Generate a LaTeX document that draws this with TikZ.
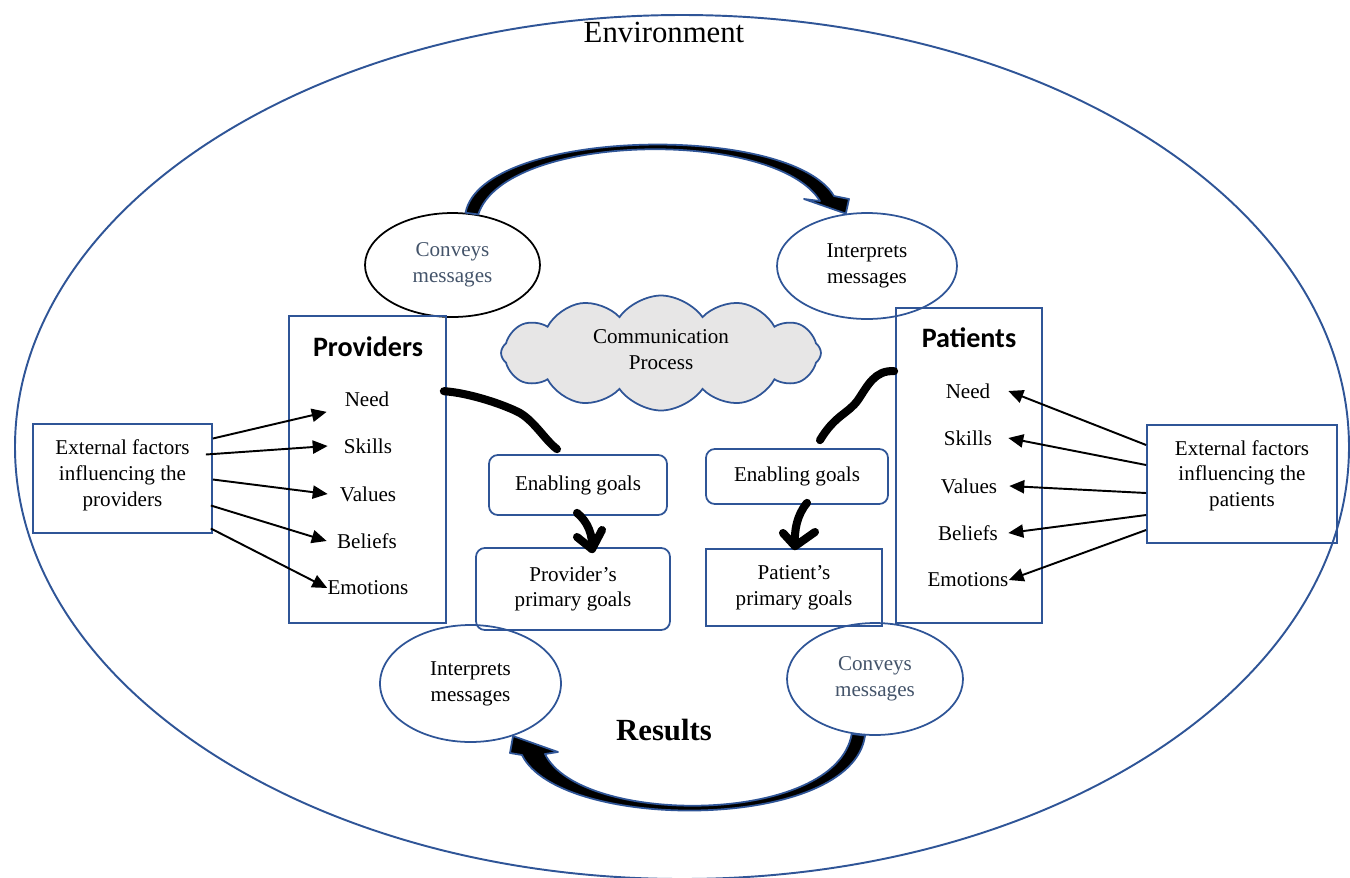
\documentclass[tikz,border=0pt]{standalone}
\usepackage{fontspec}
\setmainfont{Liberation Serif}
\newfontfamily\calibrifont{Carlito}
\usetikzlibrary{positioning, shapes.geometric, shapes.symbols, arrows.meta, calc}
\definecolor{ofblue}{HTML}{2F5597}
\definecolor{slate}{HTML}{44546A}
\definecolor{cloudgray}{HTML}{E7E6E6}
\newcommand{\bodyfont}{\fontsize{12}{14.7}\selectfont}

\begin{document}
\begin{tikzpicture}[x=0.02cm,y=-0.02cm,
  every node/.style={font=\bodyfont, align=center},
  frame/.style={draw=ofblue, line width=1pt, inner sep=0pt},
  goal/.style={frame, rounded corners=5pt},
  msg/.style={ellipse, draw=ofblue, line width=1pt, inner sep=0pt},
  item/.style={inner sep=0pt, minimum width=1.6cm, minimum height=0.5cm},
  title/.style={font=\calibrifont\bfseries\fontsize{16}{19}\selectfont},
  factor/.style={-{Triangle[length=8.5pt,width=7.5pt]}, line width=1.1pt},
  squiggle/.style={line width=4.6pt, line cap=round, line join=round},
  blockarrow/.style={fill=black, draw=ofblue, line width=1pt, line join=round}]

\useasboundingbox (0,0) rectangle (1350,877);
\draw[ofblue, line width=1.1pt] (682,447) ellipse [x radius=667, y radius=432];
\node[font=\fontsize{17.5}{21}\selectfont] (env) at (664,32) {Environment};
\node[font=\fontsize{17.5}{21}\selectfont\bfseries] (res) at (664,730) {Results};

% message ellipses
\node[msg, draw=black, minimum width=3.5cm, minimum height=2.08cm, text=slate] (convL) at (452.5,265) {Conveys\\messages};
\node[msg, minimum width=3.6cm, minimum height=2.12cm] (intR) at (867,266) {Interprets\\messages};
\node[msg, minimum width=3.62cm, minimum height=2.34cm] (intB) at (470.5,683.5) {Interprets\\messages};
\node[msg, minimum width=3.52cm, minimum height=2.24cm, text=slate] (convB) at (875,679) {Conveys\\messages};

\node[cloud, cloud puffs=12, cloud puff arc=110, aspect=2.8, draw=ofblue, line width=1pt, fill=cloudgray, minimum width=6.4cm, minimum height=2.3cm, inner sep=0pt, text depth=4pt] (comm) at (661,353) {Communication\\Process};

% providers side
\node[frame, minimum width=3.14cm, minimum height=6.14cm] (prov) at (367.5,469.5) {};
\node[title] (provT) at (368,347) {Providers};
\node[item] (pneed) at (367,399) {Need};
\node[item] (pskill) at (368,446) {Skills};
\node[item] (pval) at (368,494) {Values};
\node[item] (pbel) at (367,541) {Beliefs};
\node[item] (pemo) at (368,588) {Emotions};
\node[frame, minimum width=3.58cm, minimum height=2.18cm, text depth=6pt] (extL) at (122.5,478.5) {External factors\\influencing the\\providers};

% patients side
\node[frame, minimum width=2.92cm, minimum height=6.3cm] (pat) at (969,465.5) {};
\node[title] (patT) at (969,338) {Patients};
\node[item] (tneed) at (968,391) {Need};
\node[item] (tskill) at (968,438) {Skills};
\node[item] (tval) at (969,486) {Values};
\node[item] (tbel) at (968,533) {Beliefs};
\node[item] (temo) at (968,580) {Emotions};
\node[frame, minimum width=3.8cm, minimum height=2.36cm, text depth=12pt] (extR) at (1242,484) {External factors\\influencing the\\patients};

% goals
\node[goal, minimum width=3.56cm, minimum height=1.2cm] (enL) at (578,485) {Enabling goals};
\node[goal, minimum width=3.88cm, minimum height=1.64cm] (pgL) at (573,589) {Provider’s\\primary goals};
\node[goal, minimum width=3.64cm, minimum height=1.1cm] (enR) at (797,476.5) {Enabling goals};
\node[frame, minimum width=3.52cm, minimum height=1.54cm] (pgR) at (794,587.5) {Patient’s\\primary goals};

\draw[factor] ($(extL.east)+(0,-40)$) -- (pneed.south west);
\draw[factor] ($(extL.east)+(-7,-24)$) -- (pskill.west);
\draw[factor] ($(extL.east)+(0,1)$) -- (pval.west);
\draw[factor] ($(extL.east)+(-2,27)$) -- (pbel.west);
\draw[factor] ($(extL.east)+(-2,50)$) -- (pemo.west);

\draw[factor] ($(extR.west)+(0,-39)$) -- (tneed.east);
\draw[factor] ($(extR.west)+(0,-19)$) -- (tskill.east);
\draw[factor] ($(extR.west)+(0,9)$) -- (tval.east);
\draw[factor] ($(extR.west)+(0,31)$) -- (tbel.east);
\draw[factor] ($(extR.west)+(0,46)$) -- (temo.east);

% hand drawn strokes
\draw[squiggle] ($(prov.north east)+(-3,76)$) .. controls (470,393) and (505,405) .. (520,413) .. controls (535,422) and (545,440) .. ($(enL.north)+(-21,-5)$);
\draw[squiggle] ($(pat.north west)+(-1,64)$) .. controls (875,370) and (868,385) .. (858,400) .. controls (848,414) and (835,415) .. ($(enR.north)+(23,-8)$);
\coordinate (tipL) at ($(pgL.north)+(19,2)$);
\coordinate (tipR) at ($(pgR.north)+(1,-2)$);
\draw[squiggle] ($(enL.south)+(-1,-3)$) .. controls (588,522) and (593,535) .. (tipL);
\draw[squiggle] (577,537) -- (tipL) -- (602,530);
\draw[squiggle] ($(enR.south)+(10,-2)$) .. controls (797,515) and (794,530) .. (tipR);
\draw[squiggle] (783,533) -- (tipR) -- (815,532);

% block arrows
\draw[blockarrow] (convL.76) .. controls (482,128) and (790,122) .. (834,196) -- (849,199) -- (intR.112) -- (804,199) -- (820,201) .. controls (775,128) and (505,132) .. (convL.63) -- cycle;
\draw[blockarrow] (convB.-100) .. controls (852,832) and (560,832) .. (522,755) -- (510,753) -- (intB.-51) -- (558,752) -- (545,754) .. controls (580,826) and (836,826) .. (convB.-113) -- cycle;

\end{tikzpicture}
\end{document}
